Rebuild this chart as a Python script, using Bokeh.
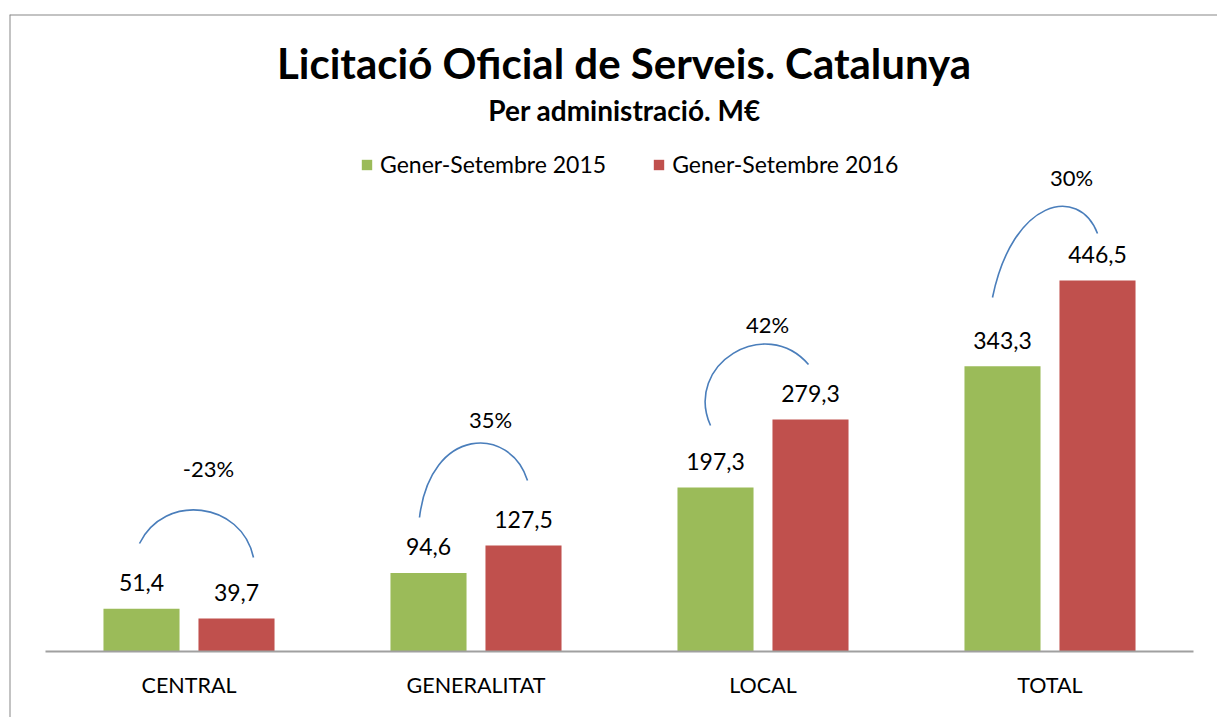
from bokeh.plotting import figure
from bokeh.models import Range1d, Span, Legend, LegendItem, ColumnDataSource
from bokeh.transform import dodge
from bokeh.core.properties import value
from bokeh.embed import file_html
from bokeh.resources import INLINE

# ---------------- data ----------------
categories = ["CENTRAL", "GENERALITAT", "LOCAL", "TOTAL"]
series_2015 = [51.4, 94.6, 197.3, 343.3]
series_2016 = [39.7, 127.5, 279.3, 446.5]
series_names = ["Gener-Setembre 2015", "Gener-Setembre 2016"]
change_labels = ["-23%", "35%", "42%", "30%"]
title_text = "Licitació Oficial de Serveis. Catalunya"
subtitle_text = "Per administració. M€"

# ---------------- layout / style ----------------
GREEN = "#9BBB59"
RED = "#C0504D"
BLUE = "#4A7EBB"
BORDER = "#888888"
AXIS_C = "#A0A0A0"
FONT = "Lato"

W, H = 1217, 717
BL, BT = 9, 14          # frame offset inside canvas (border position)
AXIS_PY = 651           # px of baseline
CAT0_PX = 45            # px of left end of category axis
PXX = 287.0             # px per category
PXY = 0.8309            # px per M€
OFF = 0.1655
BW = 0.265


def X(px):
    return (px - CAT0_PX) / PXX


def Y(py):
    return (AXIS_PY - py) / PXY


p = figure(width=W, height=H,
           x_range=Range1d(X(BL), X(W)),
           y_range=Range1d(Y(H), Y(BT)),
           x_axis_location=None, y_axis_location=None,
           min_border_left=BL, min_border_top=BT, min_border_right=0, min_border_bottom=0,
           toolbar_location=None, output_backend="svg", outline_line_color=None,
           background_fill_color="white", border_fill_color="white")
p.xgrid.visible = False
p.ygrid.visible = False
p.grid.grid_line_color = None

src = ColumnDataSource(dict(
    xc=[i + 0.5 for i in range(len(categories))],
    cat=categories,
    v15=series_2015,
    v16=series_2016,
    l15=[f"{v:.1f}".replace(".", ",") for v in series_2015],
    l16=[f"{v:.1f}".replace(".", ",") for v in series_2016],
))

r15 = p.vbar(x=dodge("xc", -OFF), top="v15", bottom=0, width=BW,
             source=src, fill_color=GREEN, line_color=None)
r16 = p.vbar(x=dodge("xc", OFF), top="v16", bottom=0, width=BW,
             source=src, fill_color=RED, line_color=None)

# baseline axis line across the categories
p.segment(x0=[0], y0=[0], x1=[len(categories)], y1=[0], line_color=AXIS_C, line_width=2)

# value labels
for key, lab, off in (("v15", "l15", -OFF), ("v16", "l16", OFF)):
    p.text(x=dodge("xc", off), y=key, text=lab, source=src,
           text_align="center", text_baseline="middle", y_offset=-26,
           text_font=value(FONT), text_font_size="23px", text_color="black")

# category labels
p.text(x="xc", y=Y(684), text="cat", source=src,
       text_align="center", text_baseline="middle",
       text_font=value(FONT), text_font_size="21.5px", text_color="black")

# change arcs (decoration, px offsets relative to category center)
arc_dx = [(-49.5, -24.5, 52.5, 64.5), (-56.5, -45.5, 34.5, 51.5),
          (-52.5, -79.5, 2.5, 45.5), (-57.5, -37.5, 28.5, 47.5)]
arc_py = [(543, 492, 501, 557), (517, 425, 425, 480),
          (425, 364, 314, 364), (297, 199, 184, 233)]
bz = dict(x0=[], y0=[], cx0=[], cy0=[], cx1=[], cy1=[], x1=[], y1=[])
for i, (dxs, pys) in enumerate(zip(arc_dx, arc_py)):
    c = i + 0.5
    bz["x0"].append(c + dxs[0] / PXX); bz["y0"].append(Y(pys[0]))
    bz["cx0"].append(c + dxs[1] / PXX); bz["cy0"].append(Y(pys[1]))
    bz["cx1"].append(c + dxs[2] / PXX); bz["cy1"].append(Y(pys[2]))
    bz["x1"].append(c + dxs[3] / PXX); bz["y1"].append(Y(pys[3]))
p.bezier(source=ColumnDataSource(bz), x0="x0", y0="y0", x1="x1", y1="y1",
         cx0="cx0", cy0="cy0", cx1="cx1", cy1="cy1", line_color=BLUE, line_width=1.6)

pct_dx = [19.5, 14.5, 4.5, 21.5]
pct_py = [468, 419, 324, 177]
p.text(x=[i + 0.5 + d / PXX for i, d in enumerate(pct_dx)], y=[Y(v) for v in pct_py],
       text=change_labels, text_align="center", text_baseline="middle",
       text_font=value(FONT), text_font_size="22px", text_color="black")

# titles
p.text(x=[X(623.5)], y=[Y(62.5)], text=[title_text], text_align="center",
       text_baseline="middle", text_font=value(FONT), text_font_size="42px",
       text_font_style="bold", text_color="black")
p.text(x=[X(624)], y=[Y(109)], text=[subtitle_text], text_align="center",
       text_baseline="middle", text_font=value(FONT), text_font_size="28px",
       text_font_style="bold", text_color="black")

# legend
legend = Legend(items=[LegendItem(label=series_names[0], renderers=[r15]),
                       LegendItem(label=series_names[1], renderers=[r16])],
                orientation="horizontal", location=(351, 539),
                glyph_width=13, glyph_height=13, label_standoff=7, spacing=46,
                padding=0, margin=0, border_line_color=None, background_fill_alpha=0,
                label_text_font=FONT, label_text_font_size="23px", label_text_color="black")
p.add_layout(legend)

# outer border (top and left visible)
p.add_layout(Span(location=Y(BT), dimension="width", line_color=BORDER, line_width=2))
p.add_layout(Span(location=X(BL), dimension="height", line_color=BORDER, line_width=2))

open("out.html", "w").write(file_html(p, INLINE))
